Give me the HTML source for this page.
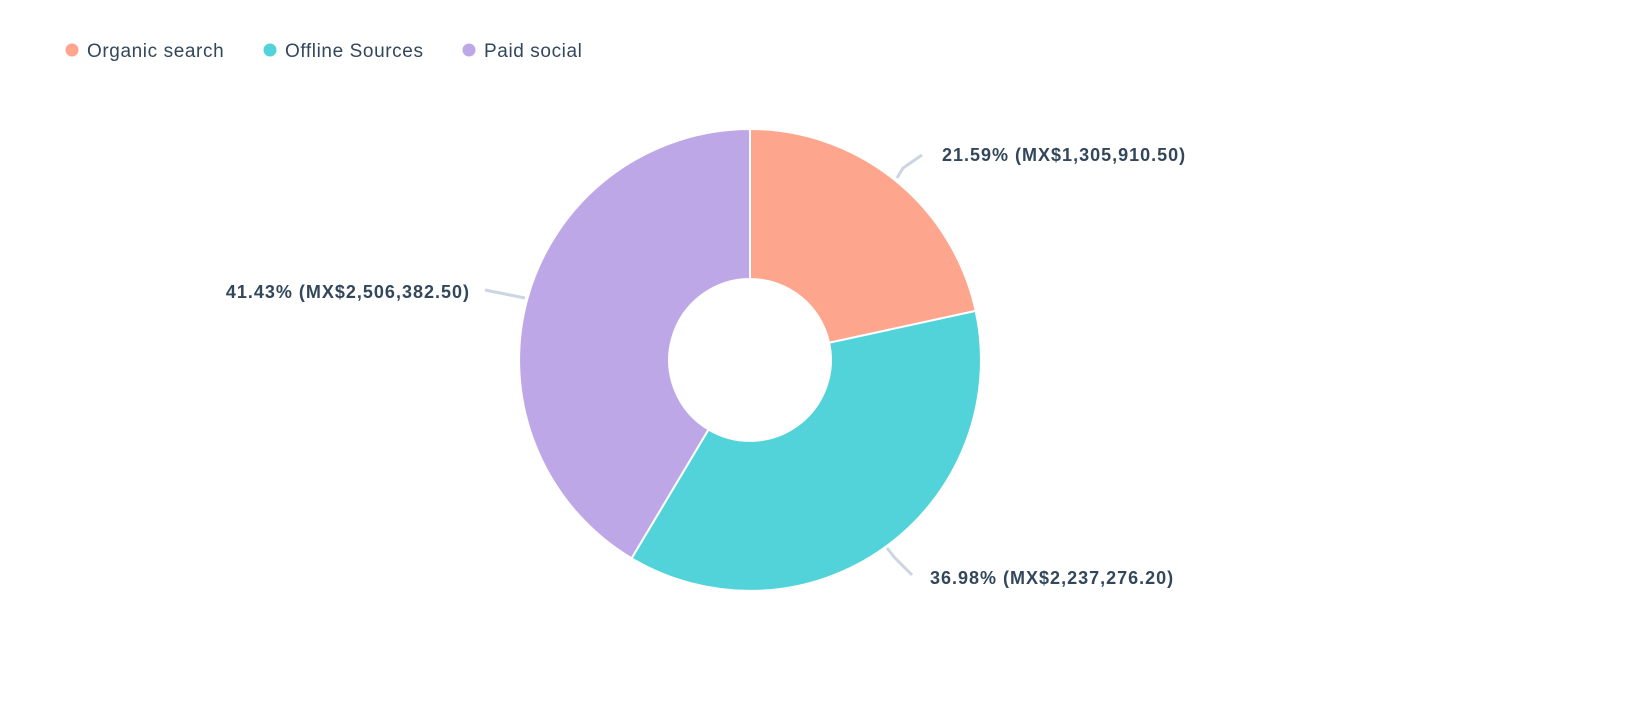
<!DOCTYPE html>
<html><head><style>
body{margin:0;background:#fff;}
svg text{font-family:"Liberation Sans",sans-serif;fill:#33475b;}
</style></head><body>
<svg width="1650" height="702" viewBox="0 0 1650 702" xmlns="http://www.w3.org/2000/svg">
<circle cx="72" cy="50" r="6.5" fill="#fea58e"/>
<text x="87" y="57" font-size="19" letter-spacing="0.6">Organic search</text>
<circle cx="270" cy="50" r="6.5" fill="#51d3d9"/>
<text x="285" y="57" font-size="19" letter-spacing="0.6">Offline Sources</text>
<circle cx="469" cy="50" r="6.5" fill="#bea7e6"/>
<text x="484" y="57" font-size="19" letter-spacing="0.6">Paid social</text>

<path d="M750,129 A231,231 0 0 1 975.7,310.9 L829.1,342.8 A81,81 0 0 0 750,279 Z" fill="#fea58e" stroke="#fff" stroke-width="2"/>
<path d="M975.7,310.9 A231,231 0 0 1 631.6,558.3 L708.5,429.5 A81,81 0 0 0 829.1,342.8 Z" fill="#51d3d9" stroke="#fff" stroke-width="2"/>
<path d="M631.6,558.3 A231,231 0 0 1 750,129 L750,279 A81,81 0 0 0 708.5,429.5 Z" fill="#bea7e6" stroke="#fff" stroke-width="2"/>

<polyline points="897,178 903,168 922,155" fill="none" stroke="#cbd6e2" stroke-width="3"/>
<polyline points="887,548 895,558 912,575" fill="none" stroke="#cbd6e2" stroke-width="3"/>
<polyline points="525,298 510,295 485,290" fill="none" stroke="#cbd6e2" stroke-width="3"/>

<text x="942" y="161" font-size="18" font-weight="bold" letter-spacing="1">21.59% (MX$1,305,910.50)</text>
<text x="930" y="584" font-size="18" font-weight="bold" letter-spacing="1">36.98% (MX$2,237,276.20)</text>
<text x="470" y="298" font-size="18" font-weight="bold" letter-spacing="1" text-anchor="end">41.43% (MX$2,506,382.50)</text>
</svg>
</body></html>
